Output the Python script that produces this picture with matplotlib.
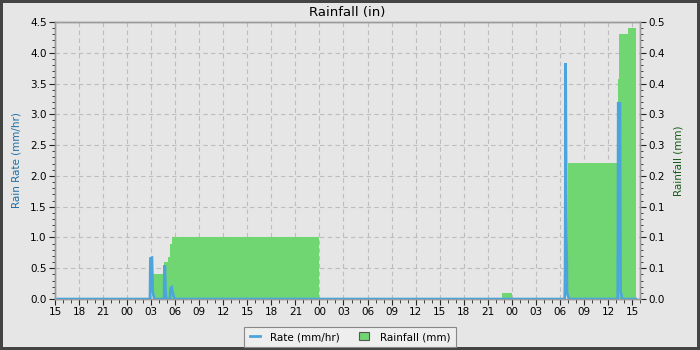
import matplotlib
matplotlib.use("Agg")
import matplotlib.pyplot as plt
from matplotlib.ticker import MultipleLocator, FixedLocator, FuncFormatter
from matplotlib.lines import Line2D
from matplotlib.patches import Patch
import numpy as np

# hours since 15:00 on day 0
rate_hours = [0.33, 11.85, 11.9, 12.1, 12.2, 12.35, 12.45, 13.6, 13.65, 13.72, 13.8, 13.9,
              14.35, 14.4, 14.55, 14.7, 14.8, 14.9,
              63.6, 63.65, 63.72, 63.82, 63.9, 64.0, 64.1, 64.2,
              70.22, 70.28, 70.5, 70.58, 70.68, 70.78, 72.5]
rate_values = [0, 0, 0.66, 0.67, 0.1, 0.03, 0, 0, 0.53, 0.53, 0.1, 0,
               0, 0.17, 0.19, 0.1, 0.05, 0,
               0, 0.46, 3.83, 1.11, 0.1, 0.05, 0.02, 0,
               0, 3.18, 3.18, 0.11, 0.07, 0, 0]

rain_hours = [0.33, 12.2, 13.65, 14.07, 14.36, 14.57, 33.0, 55.8, 57.0, 63.96, 70.29, 70.41, 71.45, 72.55]
rain_values = [0, 0.0456, 0.0667, 0.0767, 0.0989, 0.1122, 0, 0.0111, 0, 0.2456, 0.3978, 0.4778, 0.49, 0.49]

left_ticks = [0.0, 0.5, 1.0, 1.5, 2.0, 2.5, 3.0, 3.5, 4.0, 4.5]
right_tick_labels = ['0.0', '0.1', '0.1', '0.1', '0.2', '0.3', '0.3', '0.4', '0.4', '0.5']

BG = '#e6e6e6'
BLUE = '#4ba5dc'
GREEN = '#6fd672'

fig = plt.figure(figsize=(7, 3.5), dpi=100)
fig.patch.set_facecolor(BG)
fig.patch.set_edgecolor('#444444')
fig.patch.set_linewidth(3)

ax2 = fig.add_axes([55/700, 1-299/350, 585/700, 277/350])
ax = ax2.twinx()
ax2.yaxis.tick_right()
ax2.yaxis.set_label_position('right')
ax.yaxis.tick_left()
ax.yaxis.set_label_position('left')
ax.set_zorder(ax2.get_zorder() + 1)
ax.patch.set_visible(False)
ax2.set_facecolor(BG)

x0, x1 = 0, 73.0
ax2.set_xlim(x0, x1)
ax2.set_ylim(0, 0.5)
ax.set_ylim(0, 4.5)

ax2.fill_between(rain_hours, rain_values, step='post', color=GREEN, linewidth=0, zorder=2)
ax.plot(rate_hours, rate_values, color=BLUE, lw=1.9, solid_joinstyle='miter', zorder=3)

ax2.xaxis.set_major_locator(MultipleLocator(3))
ax2.xaxis.set_minor_locator(MultipleLocator(1))
ax2.xaxis.set_major_formatter(FuncFormatter(lambda v, p: '%02d' % ((15 + int(round(v))) % 24)))
ax2.tick_params(axis='x', which='major', length=4, labelsize=7.5, pad=2, color='#222222')
ax2.tick_params(axis='x', which='minor', length=3, color='#222222')

ax.yaxis.set_major_locator(FixedLocator(left_ticks))
ax.yaxis.set_minor_locator(MultipleLocator(0.1))
ax.yaxis.set_major_formatter(FuncFormatter(lambda v, p: '%.1f' % v))
ax.tick_params(axis='y', which='major', length=4, labelsize=7.5, pad=2, color='#222222')
ax.tick_params(axis='y', which='minor', length=2, color='#222222')

ax2.yaxis.set_major_locator(FixedLocator(np.linspace(0, 0.5, 10)))
ax2.set_yticklabels(right_tick_labels)
ax2.yaxis.set_minor_locator(FixedLocator(np.linspace(0, 0.5, 46)))
ax2.tick_params(axis='y', which='major', length=4, labelsize=7.5, pad=2, color='#222222')
ax2.tick_params(axis='y', which='minor', length=2, color='#222222')

ax2.grid(True, which='major', color='#bdbdbd', linestyle=(0, (4, 3)), linewidth=0.8)
ax2.set_axisbelow(True)

for a in (ax, ax2):
    for s in a.spines.values():
        s.set_color('#9a9a9a')
        s.set_linewidth(1)

ax.set_ylabel('Rain Rate (mm/hr)', color='#1f6fa5', fontsize=7.5, labelpad=6)
ax2.set_ylabel('Rainfall (mm)', color='#1a5a1a', fontsize=7.5, labelpad=6)
ax2.set_title('Rainfall (in)', fontsize=9.5, pad=4)

handles = [Line2D([0], [0], color=BLUE, lw=2),
           Patch(facecolor=GREEN, edgecolor='#555555', linewidth=0.8)]
leg = fig.legend(handles, ['Rate (mm/hr)', 'Rainfall (mm)'], loc='center',
                 bbox_to_anchor=(0.5, 13/350), ncol=2, fontsize=7.5, frameon=True,
                 fancybox=False, edgecolor='#888888', facecolor='#eeeeee', framealpha=1,
                 handlelength=1.0, handleheight=0.8, columnspacing=1.8, borderpad=0.5,
                 handletextpad=1.0)
leg.get_frame().set_linewidth(0.8)

fig.savefig('out.png', dpi=100, facecolor=fig.get_facecolor(), edgecolor=fig.patch.get_edgecolor())
